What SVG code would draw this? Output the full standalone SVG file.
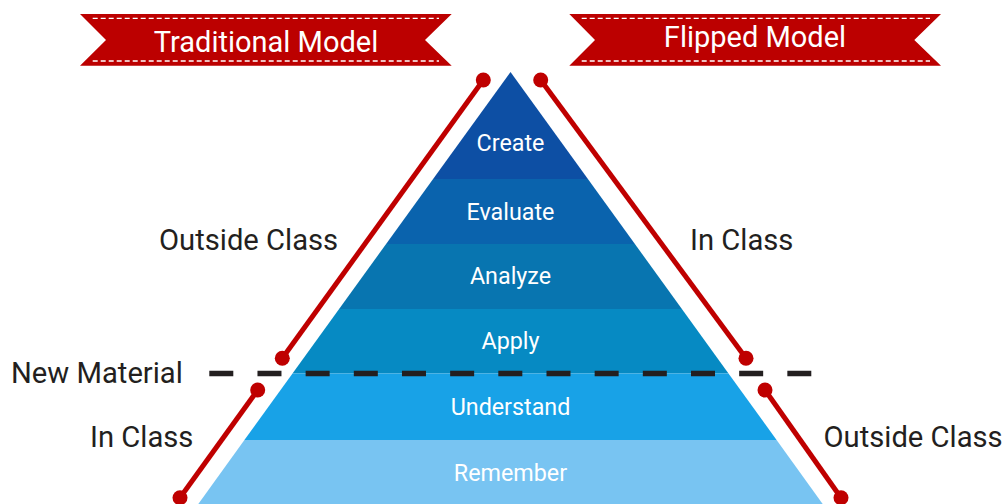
<svg xmlns="http://www.w3.org/2000/svg" width="1003" height="504" viewBox="0 0 1003 504">
<style>
.banner{fill:#bc0000}
.stitch{stroke:#ffffff;stroke-width:1.3;stroke-dasharray:5 3;fill:none}
.btxt{font-family:Roboto,"Liberation Sans",sans-serif;font-size:29px;fill:#ffffff;text-anchor:middle}
.ptxt{font-family:Roboto,"Liberation Sans",sans-serif;font-size:23.3px;fill:#ffffff;text-anchor:middle}
.ltxt{font-family:Roboto,"Liberation Sans",sans-serif;font-size:29.2px;fill:#231f20}
.rline{stroke:#bf0000;stroke-width:5;fill:none}
.dot{fill:#bf0000}
</style>
<rect width="1003" height="504" fill="#ffffff"/>
<g id="banner-traditional">
<path class="banner" d="M80,14 H451.7 L425,40 L451.7,65.7 H80 L106,40 Z"/>
<line class="stitch" x1="92.7" y1="18.3" x2="439" y2="18.3"/>
<line class="stitch" x1="92.7" y1="61" x2="439" y2="61"/>
<text class="btxt" x="266" y="51.5">Traditional Model</text>
</g>
<g id="banner-flipped">
<path class="banner" d="M569.3,14 H941 L914.3,40 L941,65.7 H569.3 L595,40 Z"/>
<line class="stitch" x1="581.7" y1="18.3" x2="930" y2="18.3"/>
<line class="stitch" x1="581.7" y1="61" x2="930" y2="61"/>
<text class="btxt" x="755" y="46.7">Flipped Model</text>
</g>
<g id="pyramid">
<g id="create"><polygon points="510.5,72 587.9,179 433.1,179" fill="#0d4fa4"/><text class="ptxt" x="510.5" y="151">Create</text></g>
<g id="evaluate"><polygon points="433.1,179 587.9,179 634.9,244 386.1,244" fill="#0a63ad"/><text class="ptxt" x="510.5" y="220">Evaluate</text></g>
<g id="analyze"><polygon points="386.1,244 634.9,244 681.9,309 339.1,309" fill="#0875b0"/><text class="ptxt" x="510.5" y="284">Analyze</text></g>
<g id="apply"><polygon points="339.1,309 681.9,309 728.5,373.5 292.5,373.5" fill="#068ac3"/><text class="ptxt" x="510.5" y="349">Apply</text></g>
<g id="understand"><polygon points="292.5,373.5 728.5,373.5 776.6,440 244.4,440" fill="#18a2e7"/><text class="ptxt" x="510.5" y="415">Understand</text></g>
<g id="remember"><polygon points="244.4,440 776.6,440 827,510 194,510" fill="#78c4f2"/><text class="ptxt" x="510.5" y="481">Remember</text></g>
</g>
<g id="connectors">
<line class="rline" x1="483.3" y1="80" x2="282.3" y2="358.3"/>
<circle class="dot" cx="483.3" cy="80" r="7.5"/>
<circle class="dot" cx="282.3" cy="358.3" r="7.5"/>
<line class="rline" x1="257.7" y1="390" x2="180" y2="497.7"/>
<circle class="dot" cx="257.7" cy="390" r="7.5"/>
<circle class="dot" cx="180" cy="497.7" r="7.5"/>
<line class="rline" x1="540.7" y1="80" x2="746" y2="358.3"/>
<circle class="dot" cx="540.7" cy="80" r="7.5"/>
<circle class="dot" cx="746" cy="358.3" r="7.5"/>
<line class="rline" x1="765" y1="390" x2="841" y2="497.7"/>
<circle class="dot" cx="765" cy="390" r="7.5"/>
<circle class="dot" cx="841" cy="497.7" r="7.5"/>
<line x1="209.3" y1="373.5" x2="811.3" y2="373.5" stroke="#231f20" stroke-width="5.3" stroke-dasharray="24 24.17"/>
</g>
<g id="labels">
<text class="ltxt" x="159" y="250">Outside Class</text>
<text class="ltxt" x="690" y="250">In Class</text>
<text class="ltxt" x="11" y="383.3">New Material</text>
<text class="ltxt" x="90" y="447.3">In Class</text>
<text class="ltxt" x="823.5" y="446.7">Outside Class</text>
</g>
</svg>
